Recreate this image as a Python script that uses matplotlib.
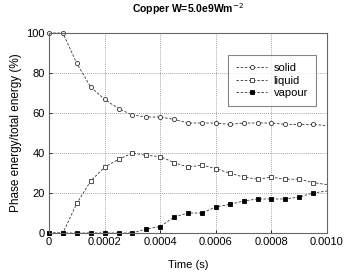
import matplotlib
matplotlib.use("Agg")
import matplotlib.pyplot as plt
import numpy as np

plt.rcParams['font.family'] = ['Liberation Sans', 'DejaVu Sans']

time = [0, 0.00005, 0.0001, 0.00015, 0.0002, 0.00025, 0.0003, 0.00035, 0.0004,
        0.00045, 0.0005, 0.00055, 0.0006, 0.00065, 0.0007, 0.00075, 0.0008,
        0.00085, 0.0009, 0.00095, 0.001]
solid = [100, 100, 84.8, 73, 66.8, 62.2, 59, 58, 58, 56.8, 55, 55, 55, 54.3,
         55, 55, 55, 54.3, 54.3, 54.3, 53.7]
liquid = [0, 0, 14.8, 26, 33, 36.8, 40, 38.8, 38.2, 35.2, 32.9, 34, 32.2, 29.9,
          28, 26.9, 27.9, 26.9, 26.9, 25.2, 24.2]
vapour = [0, 0, 0, 0, 0, 0, 0, 2, 3.2, 8, 10, 10, 13, 14.3, 16, 17, 17, 17,
          18, 20, 21]

fig = plt.figure(figsize=(3.47, 2.76), dpi=100)
ax = fig.add_axes([49/347, 43/276, 278/347, 200/276])

mk = list(range(len(time) - 1))
lc = '#333333'
ax.plot(time, solid, linestyle=(0, (3, 2)), color=lc, lw=0.6, marker='o', ms=3,
        mfc='white', mec='#333333', mew=0.6, markevery=mk, label='solid', clip_on=False)
ax.plot(time, liquid, linestyle=(0, (3, 2)), color=lc, lw=0.6, marker='s', ms=3.5,
        mfc='white', mec='#333333', mew=0.6, markevery=mk, label='liquid', clip_on=False)
ax.plot(time, vapour, linestyle=(0, (3, 2)), color=lc, lw=0.6, marker='s', ms=3.5,
        mfc='black', mec='black', mew=0.6, markevery=mk, label='vapour', clip_on=False)

ax.set_xlim(0, 0.001)
ax.set_ylim(0, 100)
ax.set_xticks([0, 0.0002, 0.0004, 0.0006, 0.0008, 0.001])
ax.set_xticklabels(['0', '0.0002', '0.0004', '0.0006', '0.0008', '0.0010'])
ax.set_yticks([0, 20, 40, 60, 80, 100])
ax.tick_params(labelsize=8, length=2, width=0.6, direction='in', pad=3)
ax.grid(True, linestyle=(0, (1, 1.5)), color='#888888', lw=0.6)
for s in ax.spines.values():
    s.set_color('#666666')
    s.set_linewidth(0.8)

ax.set_xlabel('Time (s)', fontsize=8, labelpad=9)
ax.set_ylabel('Phase energy/total energy (%)', fontsize=8.5, labelpad=3)
fig.text(188/347, 1 - 9/276, 'Copper W=5.0e9Wm$^{-2}$', ha='center', va='center',
         fontsize=7.5, fontweight='bold')

leg = ax.legend(loc='upper right', bbox_to_anchor=(0.96, 0.89), fontsize=8,
                frameon=True, fancybox=False, edgecolor='#666666', borderaxespad=0,
                handlelength=2.8, borderpad=0.7, labelspacing=0.25, handletextpad=0.6)
leg.get_frame().set_linewidth(0.8)

fig.savefig('out.png', dpi=100)
